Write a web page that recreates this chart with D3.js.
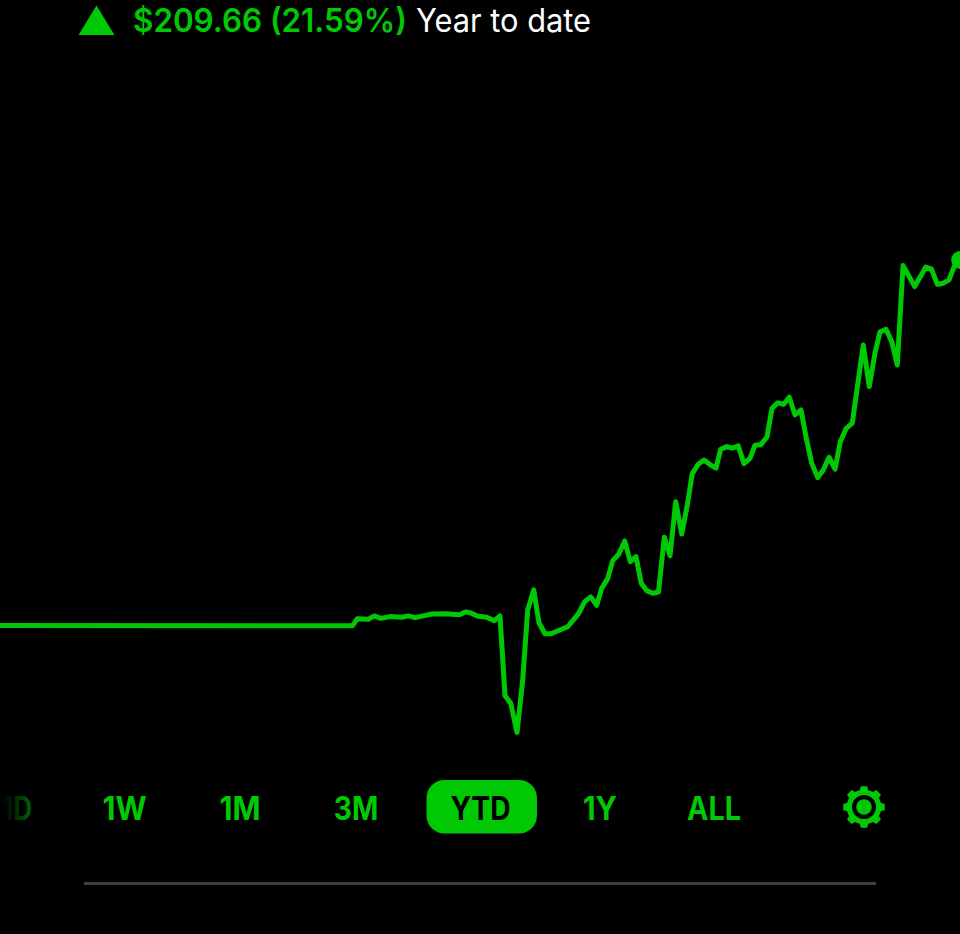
<!DOCTYPE html>
<html><head><meta charset="utf-8">
<script src="https://cdnjs.cloudflare.com/ajax/libs/d3/7.8.5/d3.min.js"></script>
<style>html,body{margin:0;padding:0;background:#000;overflow:hidden}svg{display:block}</style>
</head><body><div id="chart"></div>
<script>
const days = [0,58.78,59.55,61.38,62.38,63.45,65,66.95,68.05,69.17,70.55,71.95,74.17,76.55,77.62,78.5,79.55,81.12,82.38,83.33,84.17,85.12,86.17,87.12,87.95,88.95,89.83,90.83,91.83,94.62,96.45,97.45,98.45,99.45,100.28,101.28,102.12,103.12,104.12,105.05,106,106.88,107.78,108.78,109.75,110.72,111.67,112.62,113.62,114.55,115.38,116.38,117.33,118.33,119.33,120.12,121.12,122.05,123.05,124,125,125.83,126.78,127.83,128.67,129.62,130.62,131.55,132.5,133.5,134.33,135.28,136.28,137.22,138.17,139.17,140.05,141,142.05,143.88,144.88,145.83,146.67,147.67,148.62,149.55,150.5,152.45,154.28,155.22,156.22,157.22,158.17,159.45];
const values = [971.1,971.0,975.0,974.7,976.6,975.2,976.2,975.8,976.6,975.6,976.6,977.7,977.9,977.3,978.9,978.3,976.6,975.8,973.9,976.6,930.8,926.5,909.8,939.8,980.0,991.5,972.7,966.4,966.4,970.4,978.1,984.8,987.5,982.7,992.4,998.0,1008.3,1012.0,1019.6,1007.7,1010.6,995.3,991.1,989.6,990.3,1021.7,1011.1,1042.1,1023.6,1040.2,1058.2,1063.6,1066.0,1063.4,1061.3,1072.2,1073.7,1072.8,1074.1,1063.9,1067.0,1074.5,1074.7,1079.2,1095.7,1098.8,1098.0,1102.0,1091.9,1094.7,1079.4,1064.2,1055.9,1060.3,1067.6,1060.7,1076.5,1084.0,1087.1,1132.0,1108.1,1127.3,1139.5,1141.0,1133.9,1120.5,1177.5,1165.5,1176.6,1175.6,1166.8,1167.4,1169.3,1180.76];
const tabs = ["1D","1W","1M","3M","YTD","1Y","ALL"];
const activeTab = "YTD";
const changeText = "$209.66 (21.59%)";
const periodText = "Year to date";

const W = 960, H = 934, GREEN = "#00c805";
const svg = d3.select("#chart").append("svg").attr("width",W).attr("height",H).attr("viewBox",`0 0 ${W} ${H}`);
svg.append("rect").attr("width",W).attr("height",H).attr("fill","#000");

const defs = svg.append("defs");
const fade = defs.append("linearGradient").attr("id","fade").attr("gradientUnits","userSpaceOnUse")
  .attr("x1",2).attr("x2",32).attr("y1",0).attr("y2",0);
fade.append("stop").attr("offset",0).attr("stop-color",GREEN).attr("stop-opacity",0);
fade.append("stop").attr("offset",1).attr("stop-color",GREEN).attr("stop-opacity",0.5);

// Header
svg.append("path").attr("d","M78.5 35L96.5 5.5L114.5 35Z").attr("fill",GREEN);
const FONT = "Inter, 'Noto Sans', sans-serif";
svg.append("text").attr("x",133).attr("y",32).attr("font-family",FONT).attr("font-size",32).attr("font-weight",600)
  .attr("fill",GREEN).attr("textLength",274).attr("lengthAdjust","spacingAndGlyphs").text(changeText);
svg.append("text").attr("x",416).attr("y",32).attr("font-family",FONT).attr("font-size",32).attr("font-weight",400)
  .attr("fill","#fff").attr("textLength",175).attr("lengthAdjust","spacingAndGlyphs").text(periodText);

// Line
const x = d3.scaleLinear().domain([0,160]).range([0,960]);
const y = d3.scaleLinear().domain([971.1,1180.76]).range([625.5,259.9]);
const line = d3.line().x((d,i)=>x(days[i])).y(d=>y(d));
svg.append("path").datum(values).attr("d",line).attr("fill","none").attr("stroke",GREEN)
  .attr("stroke-width",5).attr("stroke-linejoin","round");
svg.append("circle").attr("cx",x(days[days.length-1])+3.5).attr("cy",y(values[values.length-1])).attr("r",9).attr("fill",GREEN);

// Tabs
const tabCenter = [17,124.5,240,356,480.5,600,714];
const tabWidth = [30,44,41,44.5,60,34,54];
svg.append("rect").attr("x",426.5).attr("y",780).attr("width",110.5).attr("height",53.5).attr("rx",18).attr("fill",GREEN);
tabs.forEach((t,i)=>{
  svg.append("text").attr("y",819.5).attr("font-family",FONT).attr("font-size",32).attr("font-weight",700)
    .attr("fill", i===0 ? "url(#fade)" : t===activeTab ? "#000" : GREEN)
    .attr("x",tabCenter[i]-tabWidth[i]/2).attr("textLength",tabWidth[i]).attr("lengthAdjust","spacingAndGlyphs").text(t);
});

// Gear
const cx = 864, cy = 807, teeth = 8, rOut = 21, rIn = 17.5;
const pts = [];
d3.range(teeth).forEach(k=>{
  const a = k*2*Math.PI/teeth, s = 2*Math.PI/teeth;
  [[-0.3,rIn],[-0.2,rOut],[0.2,rOut],[0.3,rIn]].forEach(([f,r])=>{
    const t = a + f*s;
    pts.push([r*Math.sin(t), -r*Math.cos(t)]);
  });
});
const gear = svg.append("g").attr("transform",`translate(${cx},${cy})`);
gear.append("path").attr("d",d3.line().curve(d3.curveLinearClosed)(pts)).attr("fill",GREEN);
gear.append("circle").attr("r",12).attr("fill","#000");
gear.append("circle").attr("r",7.8).attr("fill",GREEN);

// Divider
svg.append("line").attr("x1",84).attr("x2",876).attr("y1",883.5).attr("y2",883.5).attr("stroke","#3a4045").attr("stroke-width",3);
</script></body></html>
